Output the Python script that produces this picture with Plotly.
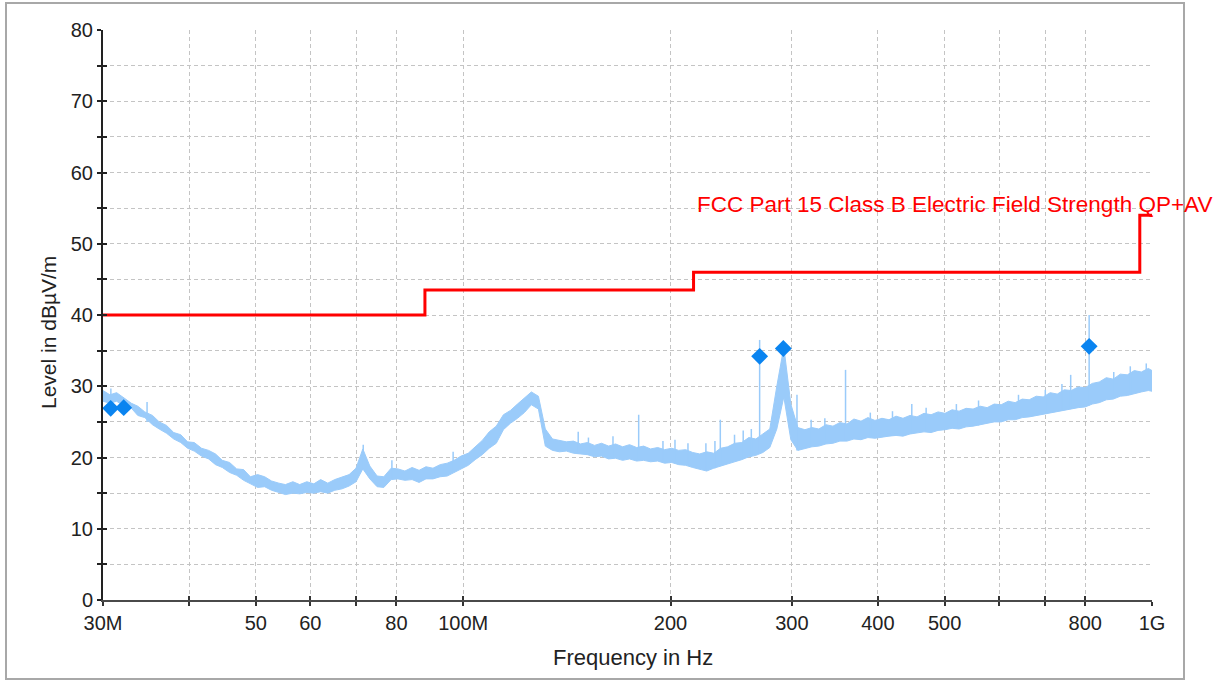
import numpy as np
import plotly.graph_objects as go

# ---------------- data ----------------
# measurement band: frequencies (MHz) with lower / upper edge of the noisy trace (dBuV/m)
freq_mhz = [30, 30.7, 31.4, 32.2, 33.0, 33.7, 34.5, 35.4, 36.2, 37.1, 38.0, 38.9, 39.8,
            40.7, 41.7, 42.7, 43.7, 44.7, 45.8, 46.9, 48.0, 49.1, 50.3,
            51.5, 52.7, 54.0, 55.2, 56.6, 57.9, 59.3, 60.7, 62.1, 63.6, 65.1, 66.7, 68.3, 69.9,
            71.5, 73.2, 75.0, 76.7, 78.6, 80.4,
            82.3, 84.3, 86.3, 88.3, 90.4, 92.6, 94.8, 97.0, 99.3,
            101.7, 104.1, 106.6, 109.1, 111.7, 114.4, 117.1, 119.9, 122.7, 125.6, 128.6,
            131.6, 134.8, 138.0, 141.2, 144.6, 148.0, 151.5, 155.1, 158.8, 162.6, 166.4,
            170.4, 174.4, 178.6, 182.8, 187.1, 191.6, 196.1, 200.8, 205.5, 210.4, 215.4, 220.5,
            225.7, 231.1, 236.5, 242.1, 247.9, 253.8, 259.8, 266.0, 272.3, 278.7, 285.3, 292.1, 299.0,
            306.1, 313.4, 320.8, 328.4, 336.2, 344.2, 352.3, 360.7, 369.2, 378.0, 386.9,
            396.1, 405.5, 415.1, 425.0, 435.0, 445.3, 455.9, 466.7, 477.8, 489.1, 500.7,
            512.6, 524.7, 537.2, 549.9, 563.0, 576.3, 590.0, 604.0, 618.3, 632.9,
            647.9, 663.3, 679.0, 695.1, 711.6, 728.5, 745.7, 763.4, 781.5, 800.0,
            819.0, 838.4, 858.3, 878.6, 899.5, 920.8, 942.6, 965.0, 987.8, 1000]

level_lo = [27.9, 27.6, 27.9, 27.2, 26.9, 25.9, 25.6, 24.6, 24.0, 23.4, 22.6, 22.1, 21.3,
            20.9, 20.2, 19.8, 19.0, 18.6, 17.9, 17.5, 16.8, 16.3, 15.8,
            15.9, 15.4, 15.1, 14.8, 15.0, 14.9, 15.1, 15.0, 15.2, 15.0, 15.4, 15.6, 16.0, 16.6,
            18.4, 17.0, 15.9, 15.8, 16.9, 17.0,
            16.8, 16.9, 16.5, 17.0, 17.0, 17.3, 17.4, 17.9, 18.4,
            18.9, 19.7, 20.4, 21.3, 22.0, 23.9, 24.8, 25.5, 26.3, 27.4, 26.8,
            21.6, 21.0, 20.8, 20.9, 20.6, 20.5, 20.4, 20.1, 20.2, 19.8, 19.9,
            19.6, 19.8, 19.5, 19.6, 19.4, 19.5, 19.2, 19.3, 19.0, 18.9, 18.6, 18.3,
            18.1, 18.5, 18.8, 19.2, 19.4, 19.7, 20.1, 20.3, 20.7, 21.4, 24.0, 28.5, 22.5,
            21.0, 21.3, 21.5, 21.6, 21.9, 22.0, 22.3, 22.3, 22.6, 22.5, 22.8,
            22.7, 22.9, 23.0, 23.1, 23.0, 23.3, 23.4, 23.6, 23.5, 23.8, 23.9,
            24.1, 24.0, 24.3, 24.4, 24.6, 24.7, 25.0, 25.0, 25.3, 25.3,
            25.6, 25.7, 25.9, 26.0, 26.3, 26.4, 26.7, 26.8, 27.0, 27.1,
            27.5, 27.7, 28.1, 28.2, 28.6, 28.7, 29.0, 29.2, 29.4, 29.3]

level_hi = [29.4, 28.8, 29.1, 28.4, 27.6, 27.2, 26.4, 25.9, 25.0, 24.5, 23.5, 23.2, 22.2,
            22.1, 21.3, 21.0, 20.5, 19.6, 19.3, 18.4, 18.3, 17.3, 17.6,
            17.3, 16.7, 16.4, 16.2, 16.6, 16.2, 16.6, 16.3, 16.9, 16.4, 16.9, 17.2, 17.6, 18.5,
            21.2, 18.8, 17.4, 17.3, 18.5, 18.4,
            18.1, 18.6, 18.2, 18.7, 18.5, 19.0, 19.2, 19.6, 20.2,
            20.6, 21.5, 22.4, 23.6, 24.4, 26.0, 26.6, 27.5, 28.3, 29.2, 28.6,
            24.0, 22.6, 22.4, 22.2, 22.3, 21.9, 22.1, 21.7, 22.0, 21.6, 21.9,
            21.5, 21.8, 21.4, 21.6, 21.2, 21.4, 21.1, 21.3, 21.0, 21.1, 20.7, 20.5,
            20.8, 20.6, 21.3, 21.5, 22.0, 22.1, 22.8, 22.6, 23.3, 24.0, 30.0, 35.5, 27.5,
            24.2, 23.9, 24.2, 24.0, 24.6, 24.4, 24.9, 24.7, 25.4, 25.1, 25.6,
            25.2, 25.5, 25.3, 25.8, 25.5, 25.9, 25.7, 26.2, 26.0, 26.4, 26.2,
            26.7, 26.5, 26.9, 26.8, 27.2, 27.0, 27.5, 27.4, 27.9, 27.7,
            28.2, 28.1, 28.6, 28.5, 29.1, 28.9, 29.5, 29.4, 29.9, 29.8,
            30.4, 30.6, 31.2, 31.0, 31.7, 31.6, 32.2, 32.0, 32.5, 32.2]

# narrow spikes sticking out of the band (MHz, foot and tip in dBuV/m)
spike_mhz = [30.8, 34.76, 71.6, 78.8, 96.7, 146.9, 152.0, 165.0, 179.8, 195.0, 203.0, 212.0,
             225.1, 232.0, 236.2, 247.7, 255.0, 262.0, 269.4, 305.2, 320.0, 335.0, 359.0,
             390.0, 420.0, 448.0, 470.0, 520.0, 560.0, 640.0, 700.0, 740.0, 762.0, 810.5,
             880.0, 930.0, 981.0]
spike_base = [28.0, 25.0, 18.5, 17.0, 18.0, 20.5, 20.4, 19.9, 19.7, 19.3, 19.2, 19.0,
              18.2, 18.5, 18.8, 19.5, 19.8, 20.1, 20.6, 21.0, 21.5, 21.9, 22.4,
              22.8, 23.1, 23.3, 23.6, 24.1, 24.5, 25.4, 26.1, 26.6, 26.8, 27.3,
              28.3, 28.8, 29.4]
spike_top = [29.7, 27.8, 21.8, 19.6, 20.8, 23.6, 22.8, 23.0, 26.0, 22.3, 22.5, 22.0,
             22.0, 22.3, 25.3, 23.2, 23.8, 24.0, 36.5, 28.8, 25.3, 25.5, 32.3,
             26.3, 26.5, 27.5, 27.0, 27.5, 28.0, 28.8, 29.5, 30.3, 31.6, 40.0,
             32.0, 32.8, 33.2]

# final measurement markers
peak_mhz = [30.78, 32.15, 269.4, 291.6, 810.5]
peak_level = [26.9, 27.0, 34.2, 35.3, 35.6]

# limit line
limit_mhz = [30, 88, 216, 960, 1000]
limit_level = [40.0, 43.5, 46.0, 54.0, 54.0]
limit_name = "FCC Part 15 Class B Electric Field Strength QP+AV"

x_tick_mhz = [30, 40, 50, 60, 70, 80, 100, 200, 300, 400, 500, 600, 700, 800, 1000]
x_tick_text = ["30M", "", "50", "60", "", "80", "100M", "200", "300", "400", "500", "", "", "800", "1G"]
y_ticks = list(range(0, 85, 5))
y_tick_text = [str(v) if v % 10 == 0 else "" for v in y_ticks]

assert len(freq_mhz) == len(level_lo) == len(level_hi)
assert len(spike_mhz) == len(spike_base) == len(spike_top)

# ---------------- figure ----------------
W, H = 1225, 683
L, R, T, B = 103, 1225 - 1152, 30, 683 - 600
pw, ph = W - L - R, H - T - B


def px_x(p):
    return (p - L) / pw


def px_y(p):
    return (H - B - p) / ph


HZ = 1e6
f_hz = [f * HZ for f in freq_mhz]
BLUE = "#9ACBFA"
FONT = "Liberation Sans, Arial, sans-serif"

fig = go.Figure()
fig.add_trace(go.Scatter(x=f_hz, y=level_lo, mode="lines",
                         line=dict(color=BLUE, width=1), hoverinfo="skip", showlegend=False))
fig.add_trace(go.Scatter(x=f_hz, y=level_hi, mode="lines", fill="tonexty", fillcolor=BLUE,
                         line=dict(color=BLUE, width=1), showlegend=False))

sx, sy = [], []
for f, b, t in zip(spike_mhz, spike_base, spike_top):
    sx += [f * HZ, f * HZ, None]
    sy += [b, t, None]
fig.add_trace(go.Scatter(x=sx, y=sy, mode="lines", line=dict(color=BLUE, width=1.5),
                         showlegend=False))

fig.add_trace(go.Scatter(x=[f * HZ for f in limit_mhz], y=limit_level, mode="lines",
                         line=dict(color="#FF0000", width=3, shape="hv"), showlegend=False))

fig.add_trace(go.Scatter(x=[f * HZ for f in peak_mhz], y=peak_level, mode="markers",
                         marker=dict(symbol="diamond", size=13, color="#0A84F0",
                                     line=dict(width=0)), showlegend=False))

# invisible trace for the overlay axes that give crossing tick marks
fig.add_trace(go.Scatter(x=[f_hz[0]], y=[level_lo[0]], xaxis="x2", yaxis="y2", mode="markers",
                         marker=dict(opacity=0), showlegend=False, hoverinfo="skip"))

xr = [np.log10(30 * HZ), np.log10(1000 * HZ)]
yr = [0, 80]
grid = dict(showgrid=True, gridcolor="#C4C4C4", griddash="4px,3px", gridwidth=1)

fig.update_layout(
    width=W, height=H,
    margin=dict(l=L, r=R, t=T, b=B, pad=0),
    paper_bgcolor="white", plot_bgcolor="white",
    font=dict(family=FONT, size=20, color="#222222"),
    xaxis=dict(type="log", range=xr, tickvals=[f * HZ for f in x_tick_mhz], ticktext=x_tick_text,
               ticks="outside", ticklen=4, tickwidth=1.5, tickcolor="#333333",
               showline=True, linecolor="#4a4a4a", linewidth=2, zeroline=False,
               tickfont=dict(size=20, family=FONT, color="#222222"), **grid),
    yaxis=dict(range=yr, tickvals=y_ticks, ticktext=y_tick_text,
               ticks="outside", ticklen=4, tickwidth=1.5, tickcolor="#222222",
               showline=True, linecolor="#222222", linewidth=2, zeroline=False,
               tickfont=dict(size=20, family=FONT, color="#222222"), **grid),
    xaxis2=dict(type="log", range=xr, overlaying="x", anchor="y", side="bottom",
                tickvals=[f * HZ for f in x_tick_mhz], ticks="inside", ticklen=4, tickwidth=1.5,
                tickcolor="#333333", showticklabels=False, showgrid=False, showline=False,
                zeroline=False),
    yaxis2=dict(range=yr, overlaying="y", anchor="x", side="left",
                tickvals=y_ticks, ticks="inside", ticklen=4, tickwidth=1.5,
                tickcolor="#222222", showticklabels=False, showgrid=False, showline=False,
                zeroline=False),
    showlegend=False,
)

# outer frame
fig.add_shape(type="rect", xref="paper", yref="paper",
              x0=px_x(6), x1=px_x(1184), y0=px_y(679), y1=px_y(3),
              line=dict(color="#A8A8A8", width=2), layer="below")

fig.add_annotation(text=limit_name, xref="paper", yref="paper",
                   x=px_x(1214), y=px_y(205), xanchor="right", yanchor="middle",
                   showarrow=False, font=dict(size=22.5, family=FONT, color="#FF0000"))
fig.add_annotation(text="Frequency in Hz", xref="paper", yref="paper",
                   x=px_x(633), y=px_y(657), xanchor="center", yanchor="middle",
                   showarrow=False, font=dict(size=22, family=FONT, color="#222222"))
fig.add_annotation(text="Level in dBµV/m", xref="paper", yref="paper",
                   x=px_x(48), y=px_y(333), xanchor="center", yanchor="middle", textangle=-90,
                   showarrow=False, font=dict(size=21, family=FONT, color="#222222"))

fig.write_html("out.html", config={"displayModeBar": False},
               post_script="document.body.style.margin='0';document.body.style.padding='0';")
